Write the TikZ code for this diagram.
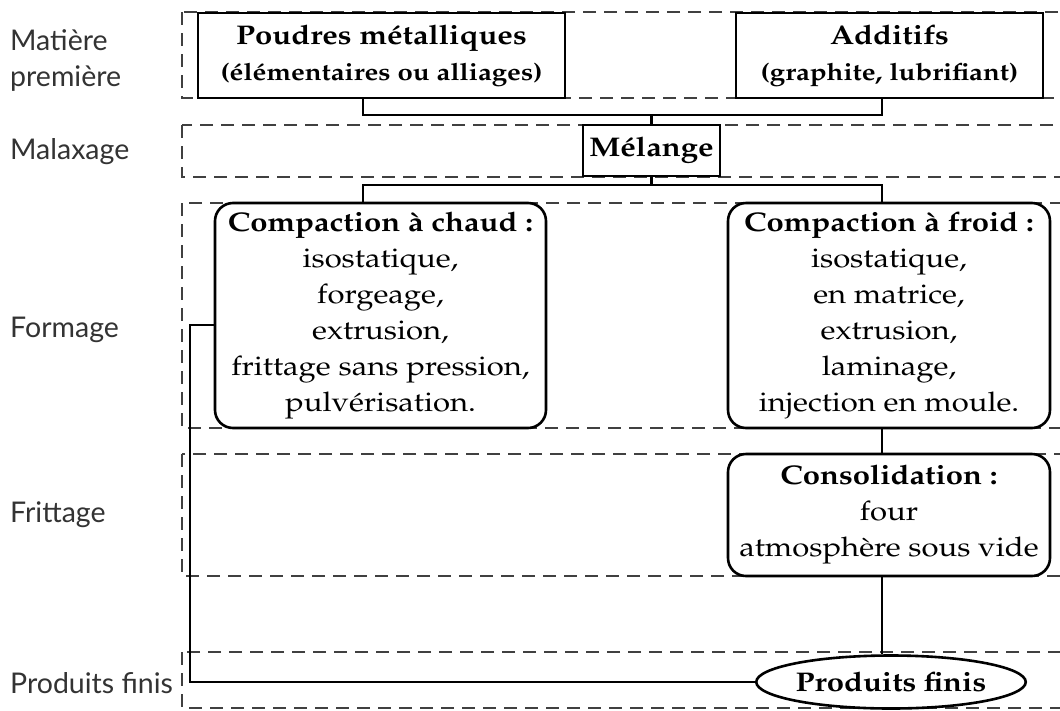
\documentclass[tikz,border=0pt]{standalone}
\usepackage{fontspec}
\newfontfamily\lab{Lato}
\usepackage[T1]{fontenc}
\usepackage{mathpazo}
\usepackage{graphicx}
\usetikzlibrary{shapes.geometric}
\newcommand\sx[1]{\scalebox{1.15}[1]{#1}}
\begin{document}
\begin{tikzpicture}[x=1pt,y=-1pt,
  band/.style={draw=black!75, line width=2.4pt, dash pattern=on 13pt off 8pt},
  lbl/.style={anchor=west, align=left, inner sep=0pt, text=black!80, font=\lab\fontsize{28.5}{36}\selectfont},
  box/.style={draw=black, line width=2.6pt, fill=white, align=center, inner sep=1pt, font=\fontsize{27}{36}\selectfont},
  rbox/.style={box, rounded corners=18pt},
  conn/.style={draw=black, line width=2.6pt}]
\clip (0,0) rectangle (1060,710);
\fill[white] (0,0) rectangle (1060,710);
% bands
\draw[band] (182,12) rectangle (1080,98);
\draw[band] (182,125) rectangle (1080,177);
\draw[band] (182,203) rectangle (1080,428);
\draw[band] (182,454) rectangle (1080,576);
\draw[band] (182,652) rectangle (1080,708);
% labels
\node[lbl] (l1) at (10,60) {Matière\\première};
\node[lbl] (l2) at (10,152) {Malaxage};
\node[lbl] (l3) at (10,330) {Formage};
\node[lbl] (l4) at (10,515) {Frittage};
\node[lbl] (l5) at (10,683) {Produits finis};
% boxes
\node[box, minimum width=367pt, minimum height=85pt] (poudres) at (381.5,55.5)
  {\sx{\bfseries Poudres métalliques}\\ \sx{\fontsize{24}{36}\selectfont\bfseries (élémentaires ou alliages)}};
\node[box, minimum width=307pt, minimum height=85pt] (additifs) at (889.5,55.5)
  {\sx{\bfseries Additifs}\\ \sx{\fontsize{24}{36}\selectfont\bfseries (graphite, lubrifiant)}};
\node[box, minimum width=137pt, minimum height=51pt] (melange) at (651.5,150.5)
  {\sx{\bfseries Mélange}};
\node[rbox, minimum width=331pt, minimum height=225pt] (chaud) at (380.5,315.5)
  {\sx{\bfseries Compaction à chaud :}\\ \sx{isostatique,}\\ \sx{forgeage,}\\ \sx{extrusion,}\\ \sx{frittage sans pression,}\\ \sx{pulvérisation.}};
\node[rbox, minimum width=322pt, minimum height=225pt] (froid) at (889,315.5)
  {\sx{\bfseries Compaction à froid :}\\ \sx{isostatique,}\\ \sx{en matrice,}\\ \sx{extrusion,}\\ \sx{laminage,}\\ \sx{injection en moule.}};
\node[rbox, minimum width=322pt, minimum height=122pt] (consol) at (889,515)
  {\sx{\bfseries Consolidation :}\\ \sx{four}\\ \sx{atmosphère sous vide}};
\node[ellipse, draw=black, line width=2.6pt, fill=white, minimum width=258pt, minimum height=53pt, inner sep=0pt,
  font=\fontsize{27}{36}\selectfont] (produits) at (891,682) {\sx{\bfseries Produits finis}};
% connector coordinates
\coordinate (xl) at (363,115);
\coordinate (xr) at (882,185);
\coordinate (bus) at (190,500);
% connectors
\draw[conn] (poudres.south -| xl) -- (xl) -| (additifs.south -| xr);
\draw[conn] (melange.north) -- (melange.north |- xl);
\draw[conn] (chaud.north -| xl) |- (melange.south |- xr) -| (froid.north -| xr);
\draw[conn] (melange.south) -- (melange.south |- xr);
\draw[conn] (froid.south -| xr) -- (consol.north -| xr);
\draw[conn] (consol.south -| xr) -- (produits.north -| xr);
\draw[conn] ([yshift=-9.5pt]chaud.west) -| (bus) |- (produits.west);
\end{tikzpicture}
\end{document}
